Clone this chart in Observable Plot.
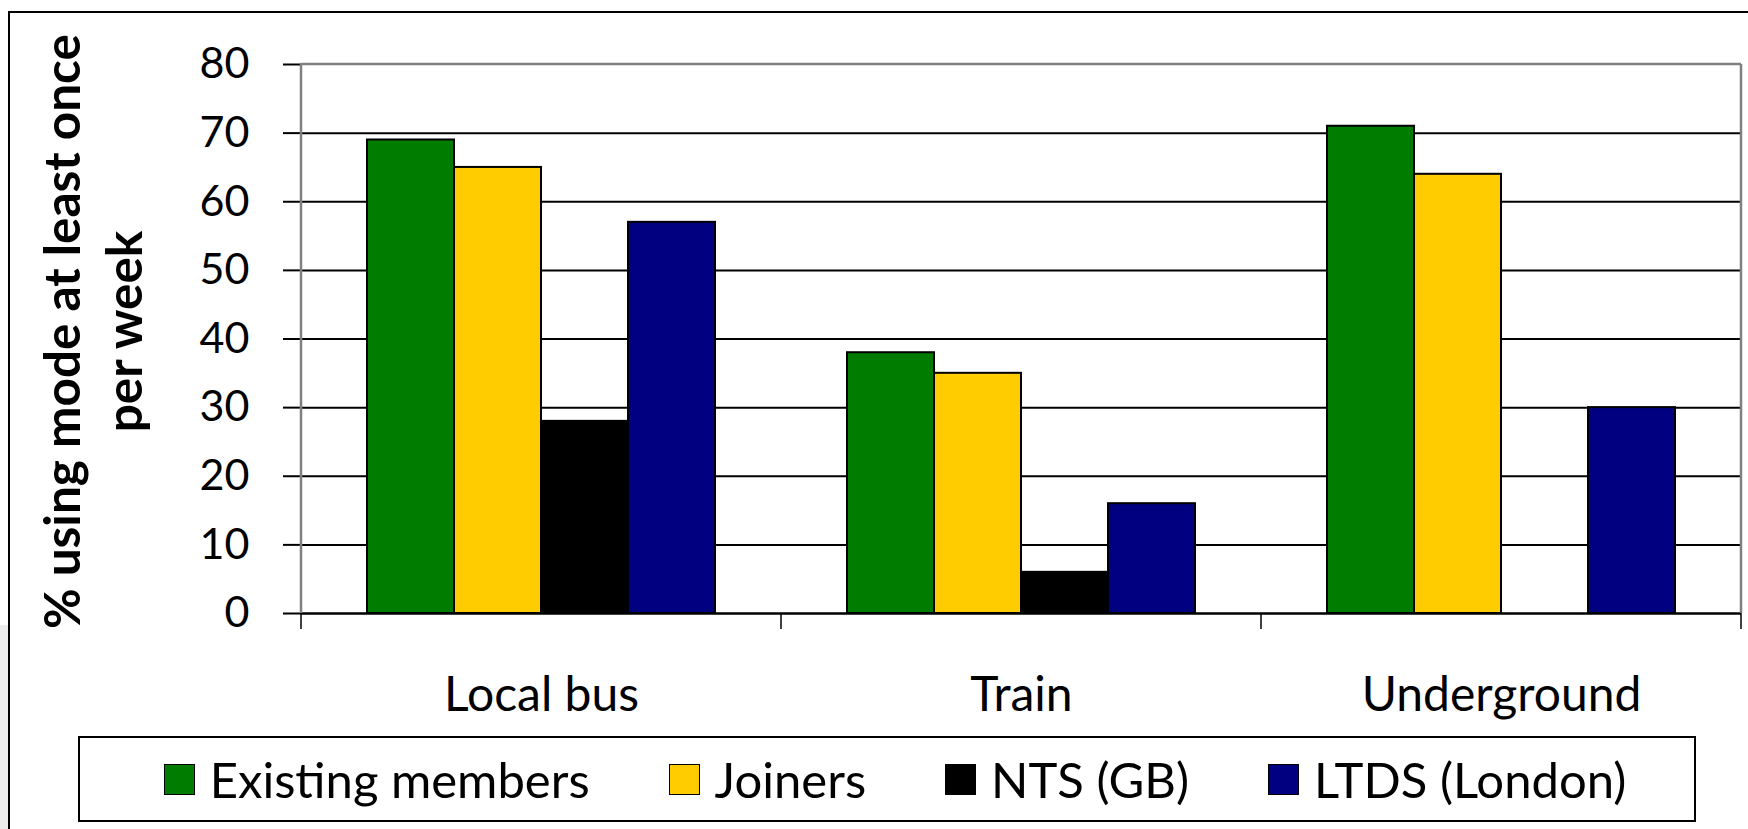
<!DOCTYPE html>
<html>
<head>
<meta charset="utf-8">
<script src="https://cdn.jsdelivr.net/npm/d3@7"></script>
<script src="https://cdn.jsdelivr.net/npm/@observablehq/plot@0.6"></script>
<style>
  html, body { margin: 0; padding: 0; background: #fff; }
  #wrap { position: relative; width: 1748px; height: 829px; overflow: hidden; background: #fff; font-family: Lato, sans-serif; }
  #frameTop { position: absolute; left: 8px; top: 11px; width: 1760px; height: 0; border-top: 2px solid #000; }
  #frameLeft { position: absolute; left: 8px; top: 11px; width: 0; height: 830px; border-left: 2px solid #000; }
  #grayBit { position: absolute; left: 0; top: 625px; width: 8px; height: 210px; background: #ececec; }
  #chart { position: absolute; left: 0; top: 0; }
  #legend { position: absolute; left: 78px; top: 736px; width: 1618px; height: 86px; box-sizing: border-box;
            border: 2px solid #000; background: #fff; display: flex; align-items: center; justify-content: center;
            padding-left: 16px; gap: 79px; }
  .item { display: flex; align-items: center; font-size: 49px; color: #000; white-space: nowrap; }
  .sw { width: 29px; height: 29px; border: 1.5px solid #000; margin-right: 15px; flex: none; }
</style>
</head>
<body>
<div id="wrap">
  <div id="frameTop"></div>
  <div id="frameLeft"></div>
  <div id="grayBit"></div>
  <div id="chart"></div>
  <div id="legend"></div>
</div>
<script>
const categories = ["Local bus", "Train", "Underground"];
const series = ["Existing members", "Joiners", "NTS (GB)", "LTDS (London)"];
const existingMembers = [69, 38, 71];
const joiners = [65, 35, 64];
const ntsGB = [28, 6, null];
const ltdsLondon = [57, 16, 30];
const colors = ["#007c00", "#ffcc00", "#000000", "#000080"];
const yTicks = [0, 10, 20, 30, 40, 50, 60, 70, 80];
const yTitle = ["% using mode at least once", "per week"];

const seriesValues = [existingMembers, joiners, ntsGB, ltdsLondon];
const data = categories.flatMap((c, i) =>
  series.map((s, j) => ({category: c, series: s, value: seriesValues[j][i]}))
).filter(d => d.value != null);

const chart = Plot.plot({
  width: 1748,
  height: 730,
  marginLeft: 301,
  marginRight: 7,
  marginTop: 64,
  marginBottom: 117,
  style: {fontFamily: "Lato, sans-serif", color: "#000", background: "transparent"},
  fx: {domain: categories, padding: 0, label: null},
  x: {domain: series, paddingInner: 0, paddingOuter: 0.743, axis: null},
  y: {domain: [0, 80], label: null},
  color: {domain: series, range: colors},
  marks: [
    Plot.ruleY(yTicks.filter(t => t > 0 && t < 80), {stroke: "#000", strokeWidth: 2}),
    Plot.barY(data, {fx: "category", x: "series", y: "value", fill: "series", stroke: "#000", strokeWidth: 2}),
    Plot.ruleY([0], {stroke: "#000", strokeWidth: 2.5}),
    Plot.axisY({ticks: yTicks, tickSize: 18, tickPadding: 34, fontSize: 43, stroke: "#000", strokeWidth: 2, label: null, tickFormat: d => String(d)}),
    Plot.axisFx({anchor: "bottom", tickSize: 0, tickPadding: 63, fontSize: 48, label: null})
  ]
});

document.getElementById("chart").appendChild(chart);

// structural lines drawn from the library's scales
const svg = d3.select(chart);
const fx = chart.scale("fx");
const y = chart.scale("y");
const y0 = y.apply(0), yTop = y.apply(80);
const left = fx.apply(categories[0]);
const right = fx.apply(categories[categories.length - 1]) + fx.bandwidth;
const g = svg.append("g");
g.append("line").attr("x1", left).attr("x2", right).attr("y1", yTop).attr("y2", yTop).attr("stroke", "#808080").attr("stroke-width", 2.5);
g.append("line").attr("x1", right).attr("x2", right).attr("y1", yTop).attr("y2", y0).attr("stroke", "#808080").attr("stroke-width", 2.5);
g.append("line").attr("x1", left).attr("x2", left).attr("y1", yTop).attr("y2", y0).attr("stroke", "#808080").attr("stroke-width", 2.5);
const bounds = categories.map(c => fx.apply(c)).concat([right]);
g.selectAll(".bt").data(bounds).join("line")
  .attr("x1", d => d).attr("x2", d => d).attr("y1", y0).attr("y2", y0 + 16)
  .attr("stroke", "#000").attr("stroke-width", 1.5);
// y-axis title
const t = svg.append("text")
  .attr("transform", "rotate(-90)")
  .attr("text-anchor", "middle")
  .attr("font-family", "Lato, sans-serif")
  .attr("font-weight", "bold")
  .attr("font-size", 49.5)
  .attr("fill", "#000");
t.selectAll("tspan").data(yTitle).join("tspan")
  .attr("x", -(yTop + y0) / 2 + 7)
  .attr("y", (d, i) => 80 + i * 62)
  .text(d => d);

// legend
const legend = d3.select("#legend");
const items = legend.selectAll(".item").data(series).join("div").attr("class", "item");
items.append("div").attr("class", "sw").style("background", (d, i) => colors[i]);
items.append("span").text(d => d);
</script>
</body>
</html>
